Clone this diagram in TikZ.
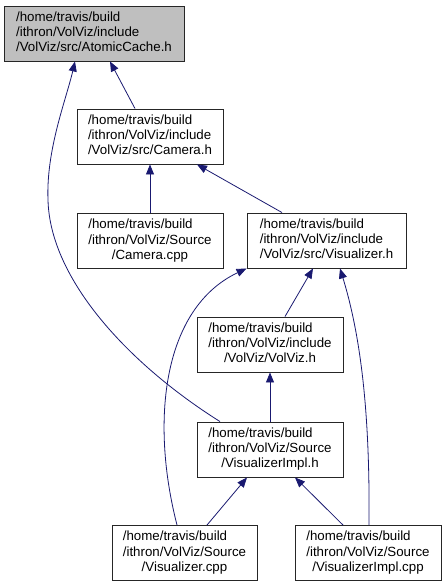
\documentclass[tikz,border=0pt]{standalone}
\usepackage{fontspec}
\setmainfont{Liberation Sans}
\usetikzlibrary{arrows.meta}

\definecolor{edgeblue}{HTML}{191970}
\definecolor{rootgray}{HTML}{BFBFBF}

% three-line file path: two left lines, last line centred
\newcommand\fpath[3]{\begin{tabular}{@{}l@{}}#1\\#2\\\multicolumn{1}{@{}c@{}}{#3}\end{tabular}}

\begin{document}
\begin{tikzpicture}[x=1pt, y=-1pt,
  file/.style={draw=black!85, line width=0.9pt, fill=white, minimum height=55pt,
               inner sep=0pt, font=\fontsize{13.3}{15.2}\selectfont},
  root/.style={file, fill=rootgray},
  dep/.style={-{Triangle[length=10pt, width=8pt]}, draw=edgeblue, line width=0.8pt},
]
\useasboundingbox (0,0) rectangle (445,587);

% --- Header files ---
\node[root, minimum width=180pt] (atomic) at (94,33.5)
  {\fpath{/home/travis/build}{/ithron/VolViz/include}{/VolViz/src/AtomicCache.h}};
\node[file, minimum width=146pt] (camh) at (150,136.5)
  {\fpath{/home/travis/build}{/ithron/VolViz/include}{/VolViz/src/Camera.h}};
\node[file, minimum width=159pt] (vish) at (326.5,240.5)
  {\fpath{/home/travis/build}{/ithron/VolViz/include}{/VolViz/src/Visualizer.h}};
\node[file, minimum width=146pt] (volviz) at (270,344.5)
  {\fpath{/home/travis/build}{/ithron/VolViz/include}{/VolViz/VolViz.h}};
\node[file, minimum width=146pt] (visimplh) at (270,449.5)
  {\fpath{/home/travis/build}{/ithron/VolViz/Source}{/VisualizerImpl.h}};

% --- Source files ---
\node[file, minimum width=146pt] (camcpp) at (150,241)
  {\fpath{/home/travis/build}{/ithron/VolViz/Source}{/Camera.cpp}};
\node[file, minimum width=145pt] (viscpp) at (184.5,553)
  {\fpath{/home/travis/build}{/ithron/VolViz/Source}{/Visualizer.cpp}};
\node[file, minimum width=146pt] (visimplcpp) at (368,553)
  {\fpath{/home/travis/build}{/ithron/VolViz/Source}{/VisualizerImpl.cpp}};

% --- Include edges ---
\draw[dep] ([xshift=-15pt]camh.north) -- ([xshift=16pt]atomic.south);
\draw[dep] ([xshift=-50pt]visimplh.north) .. controls (130,365) and (50,280) .. (48,200)
  .. controls (46,150) and (66,100) .. ([xshift=-19pt]atomic.south);
\draw[dep] (camcpp) -- (camh);
\draw[dep] ([xshift=-44.5pt]vish.north) -- ([xshift=47pt]camh.south);
\draw[dep] ([xshift=-7.5pt]viscpp.north) .. controls (150,420) and (163,308) .. (vish.south west);
\draw[dep] ([xshift=15pt]volviz.north) -- ([xshift=-13.5pt]vish.south);
\draw[dep] ([xshift=1pt]visimplcpp.north) .. controls (370,420) and (362,340) .. ([xshift=13.5pt]vish.south);
\draw[dep] (visimplh) -- (volviz);
\draw[dep] ([xshift=22.5pt]viscpp.north) -- ([xshift=-23pt]visimplh.south);
\draw[dep] ([xshift=-25pt]visimplcpp.north) -- ([xshift=25pt]visimplh.south);
\end{tikzpicture}
\end{document}
